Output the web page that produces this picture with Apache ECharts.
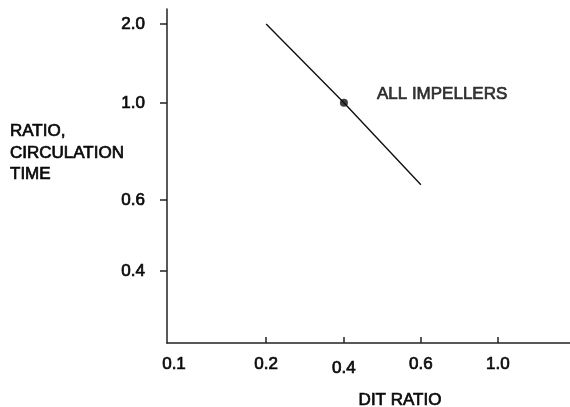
<!DOCTYPE html>
<html>
<head>
<meta charset="utf-8">
<script src="https://cdn.jsdelivr.net/npm/echarts@6/dist/echarts.min.js"></script>
<style>
  html, body { margin: 0; padding: 0; background: #fff; }
  #chart { width: 570px; height: 407px; }
</style>
</head>
<body>
<div id="chart"></div>
<script>
// tick labels of the two (hand drawn, non uniform) log axes
const xTicks = [0.1, 0.2, 0.4, 0.6, 1.0];
const yTicks = [0.4, 0.6, 1.0, 2.0];
const xLabels = ['0.1', '0.2', '0.4', '0.6', '1.0'];
const yLabels = ['0.4', '0.6', '1.0', '2.0'];

// the curve and its marked point
const lineX = [0.2, 0.4, 0.6];
const lineY = [2.0, 1.0, 0.65];
const dotX = [0.4];
const dotY = [1.0];
const curveName = 'ALL IMPELLERS';

// where each tick sits along its axis, in % of the axis length (the original scale is not a true log scale)
const xStops = [0, 24.6, 43.9, 63.0, 82.1];
const yStops = [21.6, 42.8, 71.9, 95.5];

// log interpolation between the ticks of a scale
function scale(v, ticks, stops) {
    const lv = Math.log10(v);
    let i = 0;
    while (i < ticks.length - 2 && v > ticks[i + 1]) i++;
    const l0 = Math.log10(ticks[i]), l1 = Math.log10(ticks[i + 1]);
    return stops[i] + (lv - l0) / (l1 - l0) * (stops[i + 1] - stops[i]);
}
function nearest(val, stops) {
    let best = 0;
    for (let i = 1; i < stops.length; i++) {
        if (Math.abs(stops[i] - val) < Math.abs(stops[best] - val)) best = i;
    }
    return best;
}

const font = "'Liberation Sans', Arial, sans-serif";
const ink = '#0a0a0a';
// a thin outline in the text colour makes it look like the heavy printed type
const heavy = { color: ink, fontFamily: font, fontSize: 17, textBorderColor: ink, textBorderWidth: 0.7 };

const chart = echarts.init(document.getElementById('chart'));

chart.setOption({
    animation: false,
    backgroundColor: '#fff',
    grid: {
        left: 167, right: 0, top: 9, bottom: 64,
        containLabel: false,
        outerBoundsMode: 'none'
    },
    xAxis: {
        type: 'value',
        min: 0,
        max: 100,
        splitLine: { show: false },
        axisLine: { show: true, lineStyle: { color: '#222', width: 1.5 } },
        axisTick: {
            show: true, inside: true, length: 6,
            customValues: xStops.slice(1),
            lineStyle: { color: '#222', width: 1.5 }
        },
        axisLabel: Object.assign({}, heavy, {
            customValues: xStops,
            margin: 13,
            formatter: v => {
                const i = nearest(v, xStops);
                if (i === 0) return '{first|' + xLabels[i] + '}';
                if (i === 2) return '{low|' + xLabels[i] + '}';
                return xLabels[i];
            },
            rich: {
                first: Object.assign({}, heavy, { padding: [0, 0, 0, 14] }),
                low: Object.assign({}, heavy, { padding: [4, 0, 0, 0] })
            }
        })
    },
    yAxis: {
        type: 'value',
        min: 0,
        max: 100,
        splitLine: { show: false },
        axisLine: { show: true, lineStyle: { color: '#222', width: 1.5 } },
        axisTick: {
            show: true, length: 7,
            customValues: yStops,
            lineStyle: { color: '#222', width: 1.5 }
        },
        axisLabel: Object.assign({}, heavy, {
            customValues: yStops,
            margin: 22,
            formatter: v => yLabels[nearest(v, yStops)]
        })
    },
    graphic: [
        {
            type: 'text',
            x: 10, y: 153,
            style: {
                text: 'RATIO,\nCIRCULATION\nTIME',
                font: '17px ' + font,
                fill: ink,
                stroke: ink,
                lineWidth: 0.7,
                align: 'left',
                verticalAlign: 'middle',
                lineHeight: 21.5
            }
        },
        {
            type: 'text',
            x: 400, y: 400,
            style: {
                text: 'DIT RATIO',
                font: '17px ' + font,
                fill: ink,
                stroke: ink,
                lineWidth: 0.7,
                align: 'center',
                verticalAlign: 'middle'
            }
        }
    ],
    series: [
        {
            name: curveName,
            type: 'line',
            showSymbol: false,
            lineStyle: { color: '#111', width: 1.4 },
            data: lineX.map((x, i) => [scale(x, xTicks, xStops), scale(lineY[i], yTicks, yStops)])
        },
        {
            name: curveName,
            type: 'scatter',
            symbol: 'circle',
            symbolSize: 8,
            itemStyle: { color: '#111' },
            label: Object.assign({}, heavy, {
                show: true,
                position: 'right',
                distance: 29,
                offset: [0, -9],
                formatter: curveName
            }),
            data: dotX.map((x, i) => [scale(x, xTicks, xStops), scale(dotY[i], yTicks, yStops)])
        }
    ]
});
</script>
</body>
</html>
